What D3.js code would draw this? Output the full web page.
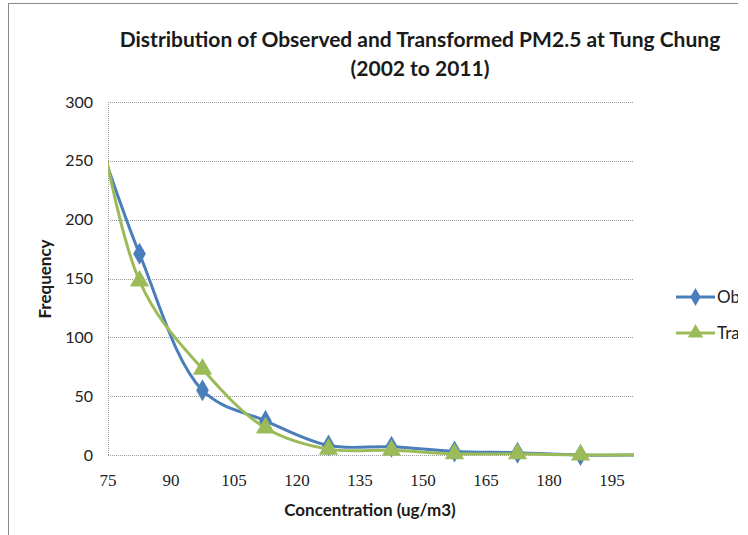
<!DOCTYPE html>
<html>
<head>
<meta charset="utf-8">
<script src="https://cdn.jsdelivr.net/npm/d3@7"></script>
<style>
  body { margin: 0; background: #fff; }
  svg { display: block; }
  .xtick { font-family: "Times New Roman", "Liberation Serif", "DejaVu Serif", serif; }
</style>
</head>
<body>
<div id="chart"></div>
<script>
// bin midpoints (the first and last fall outside the axis and get clipped)
var binMids = [67.5, 82.5, 97.5, 112.5, 127.5, 142.5, 157.5, 172.5, 187.5, 202.5];
var observed = [325, 171, 55, 29, 8, 7, 3, 2, 0, 0];
var transformed = [395, 148, 73, 23, 5, 4, 1, 1, 0, 0];
var xTicks = [75, 90, 105, 120, 135, 150, 165, 180, 195];
var yTicks = [0, 50, 100, 150, 200, 250, 300];
var seriesNames = ["Observed", "Transformed"];

(function (selector) {
    var W = 748, H = 535;
    var svg = d3.select(selector).append("svg")
        .attr("width", W)
        .attr("height", H);

    var defs = svg.append("defs");
    defs.append("clipPath").attr("id", "plotClip")
        .append("rect").attr("x", 108).attr("y", 90).attr("width", 526).attr("height", 380);
    defs.append("clipPath").attr("id", "pageClip")
        .append("rect").attr("x", 0).attr("y", 0).attr("width", 738).attr("height", H);

    var root = svg.append("g").attr("clip-path", "url(#pageClip)");

    // chart area border (runs past the picture on the right and bottom)
    root.append("rect")
        .attr("x", 8.5).attr("y", 3.5)
        .attr("width", 800).attr("height", 600)
        .attr("fill", "none")
        .attr("stroke", "#8c8c8c");

    var x = d3.scaleLinear().domain([75, 200]).range([108, 633]);
    var y = d3.scaleLinear().domain([0, 300]).range([455, 102]);

    // gridlines
    root.append("g")
        .selectAll("line")
        .data(yTicks.slice(1))
        .enter().append("line")
        .attr("x1", 108).attr("x2", 633)
        .attr("y1", function (d) { return Math.round(y(d)) + 0.5; })
        .attr("y2", function (d) { return Math.round(y(d)) + 0.5; })
        .attr("stroke", "#9a9a9a")
        .attr("stroke-dasharray", "1,1");

    // left axis line and x axis line
    root.append("line")
        .attr("x1", 108.5).attr("x2", 108.5)
        .attr("y1", y(300)).attr("y2", y(0))
        .attr("stroke", "#9a9a9a").attr("stroke-dasharray", "1,1");
    root.append("line")
        .attr("x1", 108).attr("x2", 633)
        .attr("y1", Math.round(y(0)) + 0.5).attr("y2", Math.round(y(0)) + 0.5)
        .attr("stroke", "#9a9a9a").attr("stroke-dasharray", "1,1");

    // y tick labels
    root.append("g")
        .attr("font-family", "Lato, 'Open Sans', sans-serif")
        .attr("font-size", 16)
        .attr("fill", "#222")
        .attr("text-anchor", "end")
        .selectAll("text")
        .data(yTicks)
        .enter().append("text")
        .attr("x", 93)
        .attr("y", function (d) { return y(d); })
        .attr("dy", "0.35em")
        .text(function (d) { return d; });

    // x tick labels (serif in the original)
    root.append("g")
        .attr("font-size", 17)
        .attr("fill", "#222")
        .attr("text-anchor", "middle")
        .selectAll("text")
        .data(xTicks)
        .enter().append("text")
        .attr("class", "xtick")
        .attr("x", function (d) { return x(d); })
        .attr("y", 486)
        .text(function (d) { return d; });

    // titles
    var title = root.append("g")
        .attr("font-family", "Lato, 'Open Sans', sans-serif")
        .attr("font-weight", "bold")
        .attr("font-size", 21)
        .attr("fill", "#1a1a1a")
        .attr("text-anchor", "middle");
    title.append("text").attr("x", 420).attr("y", 47)
        .text("Distribution of Observed and Transformed PM2.5 at Tung Chung");
    title.append("text").attr("x", 420).attr("y", 76)
        .text("(2002 to 2011)");

    root.append("text")
        .attr("x", 370).attr("y", 516)
        .attr("text-anchor", "middle")
        .attr("font-family", "Lato, 'Open Sans', sans-serif")
        .attr("font-weight", "bold")
        .attr("font-size", 17)
        .attr("fill", "#1a1a1a")
        .text("Concentration (ug/m3)");

    root.append("text")
        .attr("transform", "translate(51,279) rotate(-90)")
        .attr("text-anchor", "middle")
        .attr("font-family", "Lato, 'Open Sans', sans-serif")
        .attr("font-weight", "bold")
        .attr("font-size", 17)
        .attr("fill", "#1a1a1a")
        .text("Frequency");

    var series = [
        { name: seriesNames[0], values: observed, color: "#4a7ebb", symbol: d3.symbolDiamond, size: 140 },
        { name: seriesNames[1], values: transformed, color: "#9bbb59", symbol: d3.symbolTriangle, size: 160 }
    ];

    var line = d3.line()
        .x(function (d) { return x(d[0]); })
        .y(function (d) { return y(d[1]); })
        .curve(d3.curveCatmullRom.alpha(0.5));

    var plot = root.append("g").attr("clip-path", "url(#plotClip)");

    series.forEach(function (s) {
        var pts = binMids.map(function (m, i) { return [m, s.values[i]]; });
        plot.append("path")
            .datum(pts)
            .attr("d", line)
            .attr("fill", "none")
            .attr("stroke", s.color)
            .attr("stroke-width", 3);
    });

    series.forEach(function (s) {
        var pts = binMids.map(function (m, i) { return [m, s.values[i]]; });
        plot.selectAll(null)
            .data(pts.filter(function (d) { return d[0] > 75 && d[0] < 200; }))
            .enter().append("path")
            .attr("d", d3.symbol().type(s.symbol).size(s.size))
            .attr("transform", function (d) { return "translate(" + x(d[0]) + "," + y(d[1]) + ")"; })
            .attr("fill", s.color);
    });

    // legend (cut by the picture's right edge, as in the original)
    var legend = root.append("g")
        .selectAll("g")
        .data(series)
        .enter().append("g")
        .attr("transform", function (d, i) { return "translate(676," + (297 + i * 36) + ")"; });

    legend.append("line")
        .attr("x1", 0).attr("x2", 39)
        .attr("stroke", function (d) { return d.color; })
        .attr("stroke-width", 3);
    legend.append("path")
        .attr("transform", "translate(19.5,0)")
        .attr("d", function (d) { return d3.symbol().type(d.symbol).size(d.size * 0.65)(); })
        .attr("fill", function (d) { return d.color; });
    legend.append("text")
        .attr("x", 41)
        .attr("dy", "0.35em")
        .attr("font-family", "Lato, 'Open Sans', sans-serif")
        .attr("font-size", 17)
        .attr("fill", "#222")
        .text(function (d) { return d.name; });
})("#chart");
</script>
</body>
</html>
